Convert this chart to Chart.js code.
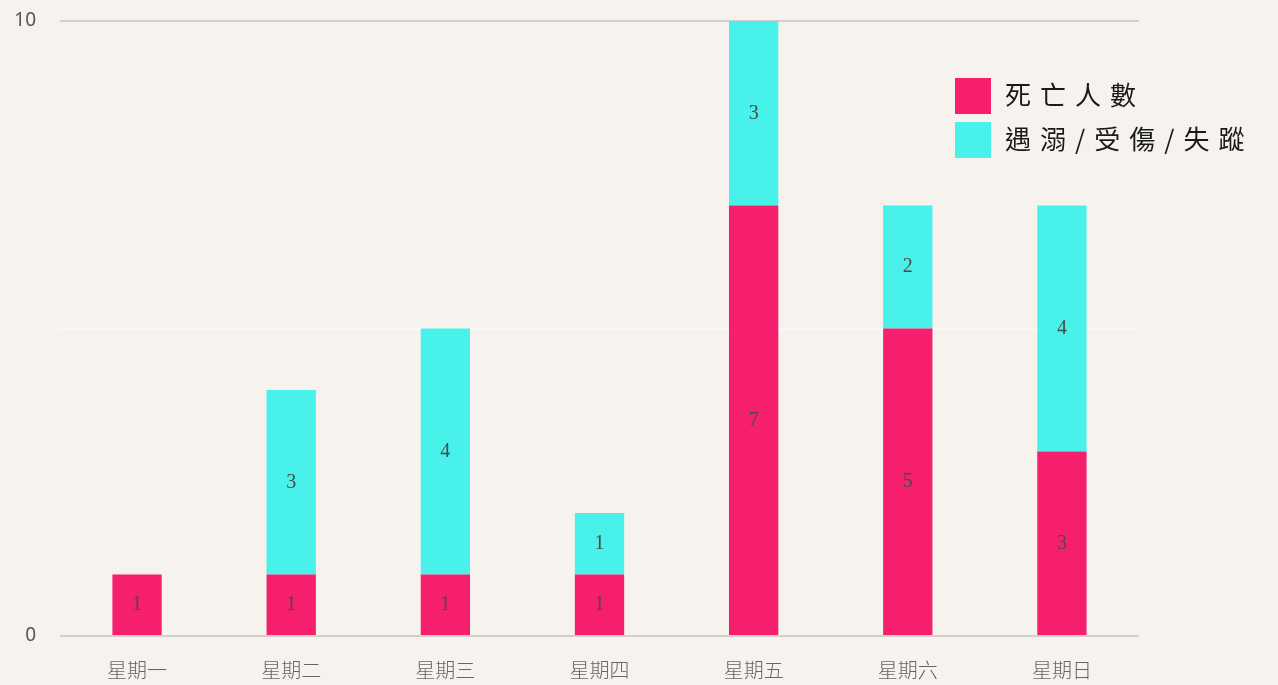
<!DOCTYPE html>
<html lang="zh-Hant">
<head>
<meta charset="UTF-8">
<title>每日傷亡人數</title>
<script src="https://cdn.jsdelivr.net/npm/chart.js"></script>
<style>
    html, body { margin: 0; padding: 0; background: #f6f3ef; }
    #wrap { width: 1278px; height: 685px; position: relative; overflow: hidden; }
</style>
</head>
<body>
<div id="wrap"><canvas id="chart" width="1278" height="685"></canvas></div>
<script>
const days = ['星期一', '星期二', '星期三', '星期四', '星期五', '星期六', '星期日'];
const deaths = [1, 1, 1, 1, 7, 5, 3];
const others = [0, 3, 4, 1, 3, 2, 4];
const seriesNames = ['死亡人數', '遇溺 / 受傷 / 失蹤'];
const yTicks = [0, 10];

const pink = '#f61f6d';
const cyan = '#48f1e9';

// numbers in the middle of each segment
const barLabels = {
    id: 'barLabels',
    afterDatasetsDraw(chart) {
        const ctx = chart.ctx;
        ctx.save();
        ctx.font = '20px "Liberation Serif", "DejaVu Serif", serif';
        ctx.fillStyle = '#4a4a4a';
        ctx.textAlign = 'center';
        ctx.textBaseline = 'middle';
        chart.data.datasets.forEach((ds, i) => {
            chart.getDatasetMeta(i).data.forEach((bar, j) => {
                const v = ds.data[j];
                if (!v) return;
                ctx.fillText(v, bar.x, (bar.y + bar.base) / 2);
            });
        });
        ctx.restore();
    }
};

// legend drawn at the top right, partly outside the plot
const sideLegend = {
    id: 'sideLegend',
    afterDraw(chart) {
        const ctx = chart.ctx;
        ctx.save();
        ctx.font = '26px "Noto Sans CJK TC", sans-serif';
        ctx.letterSpacing = '9px';
        ctx.textBaseline = 'middle';
        chart.data.datasets.forEach((ds, i) => {
            const y = 78 + i * 44;
            ctx.fillStyle = ds.backgroundColor;
            ctx.fillRect(955, y, 36, 36);
            ctx.fillStyle = '#1a1a1a';
            ctx.fillText(ds.label.replace(/ /g, ''), 1005, y + 17);
        });
        ctx.restore();
    }
};

new Chart(document.getElementById('chart'), {
    type: 'bar',
    data: {
        labels: days,
        datasets: [
            { label: seriesNames[0], data: deaths, backgroundColor: pink },
            { label: seriesNames[1], data: others, backgroundColor: cyan }
        ]
    },
    options: {
        responsive: false,
        animation: false,
        layout: { padding: { top: 21, right: 139, left: 0, bottom: 0 } },
        datasets: { bar: { barPercentage: 0.4, categoryPercentage: 0.8 } },
        scales: {
            x: {
                stacked: true,
                grid: { display: false },
                border: { display: false },
                ticks: {
                    padding: 14,
                    color: '#666',
                    font: { size: 20, family: '"Noto Sans CJK TC", sans-serif', weight: '300' }
                },
                afterFit(s) { s.height = 49; }
            },
            y: {
                stacked: true,
                min: 0,
                max: 10,
                border: { display: false },
                grid: {
                    drawTicks: false,
                    lineWidth: 2,
                    color: c => yTicks.includes(c.tick.value) ? '#d2d0cd' : '#f9f8f6'
                },
                ticks: {
                    stepSize: 5,
                    padding: 24,
                    color: '#555',
                    font: { size: 19, family: '"Noto Sans", sans-serif' },
                    callback: v => yTicks.includes(v) ? v : ''
                },
                afterFit(s) {
                    s.width = 60;
                    s.paddingTop = 0;
                    s.paddingBottom = 0;
                }
            }
        },
        plugins: {
            legend: { display: false },
            tooltip: { enabled: false }
        }
    },
    plugins: [barLabels, sideLegend]
});
</script>
</body>
</html>
